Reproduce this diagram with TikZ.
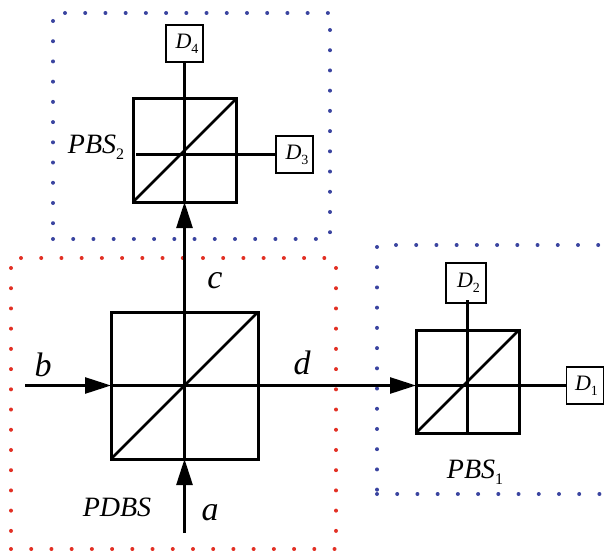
\documentclass[tikz,border=0pt]{standalone}
\usepackage{fontspec}
\usepackage{tikz}
\usetikzlibrary{arrows.meta}
\setmainfont{Liberation Serif}
\newcommand{\lowidx}[2][14]{\raisebox{-0.5ex}{\fontsize{#1}{#1}\selectfont\upshape #2}}
\newcommand{\detname}[2][5pt]{\hspace*{#1}\raisebox{-2pt}{D\lowidx{#2}}}

\begin{document}
\begin{tikzpicture}[
    x=1pt, y=-1pt,
    cube/.style={draw, rectangle, minimum size=#1, inner sep=0pt, outer sep=0pt, line width=3pt},
    detector/.style={draw, rectangle, minimum size=37pt, inner sep=0pt, outer sep=0pt, line width=1.4pt,
      font=\fontsize{22}{22}\selectfont\itshape},
    tag/.style={inner sep=0pt, font=\fontsize{28}{28}\selectfont\itshape},
    port/.style={inner sep=0pt, font=\fontsize{34}{34}\selectfont\itshape},
    beam/.style={line width=2.6pt},
    beamin/.style={beam, -{Triangle[length=26pt, width=16pt]}},
    bluedots/.style={draw={rgb,255:red,58;green,68;blue,160}, line width=4pt, line cap=round, dash pattern=on 0pt off 20.22pt},
    reddots/.style={draw={rgb,255:red,226;green,48;blue,36}, line width=4pt, line cap=round, dash pattern=on 0pt off 20.22pt}
  ]
    \useasboundingbox (0,0) rectangle (611,551);

    % dotted frames
    \draw[bluedots] (65,13) -- (329,13);
    \draw[bluedots] (53,21) -- (53,225);
    \draw[bluedots] (53,239) -- (318,239);
    \draw[bluedots] (330,30) -- (330,234);
    \draw[reddots] (21,258) -- (325,258);
    \draw[reddots] (11,268) -- (11,532);
    \draw[reddots] (11,549) -- (337,549);
    \draw[reddots] (336,268) -- (336,532);
    \draw[bluedots] (396,245) -- (599,245);
    \draw[bluedots] (377,247) -- (377,490);
    \draw[bluedots] (377,494) -- (601,494);

    % cubes
    \node[cube=147pt] (PDBS) at (184.5,385.5) {};
    \node[cube=103pt] (PBS2) at (184.5,150.5) {};
    \node[cube=103pt] (PBS1) at (467.5,381.5) {};

    % detectors
    \node[detector] (D4) at (184.5,43.5) {\detname{4}};
    \node[detector] (D3) at (294.5,154.5) {\detname{3}};
    \node[detector, minimum height=40pt, minimum width=40pt] (D2) at (466,283) {\detname{2}};
    \node[detector] (D1) at (585,385.5) {\detname[3pt]{1}};

    % free ends
    \coordinate (a) at (184.5,533);
    \coordinate (b) at (25,385.5);
    \coordinate (h2) at (136,154.5);
    \coordinate (v1top) at (467.5,300);
    \coordinate (v1bot) at (467.5,433);
    \coordinate (w1) at (416,385.5);

    % diagonals
    \draw[beam] (PDBS.south west) -- (PDBS.north east);
    \draw[beam] (PBS2.south west) -- (PBS2.north east);
    \draw[beam] (PBS1.south west) -- (PBS1.north east);

    % beams
    \draw[beamin] (a) -- (PDBS.south);
    \draw[beamin] (b) -- (PDBS.west);
    \draw[beam] (PDBS.south) -- (PDBS.north);
    \draw[beamin] (PDBS.north) -- (PBS2.south);
    \draw[beamin] (PDBS.west) -- (w1);
    \draw[beam] (PBS2.south) -- (D4.south);
    \draw[beam] (h2) -- (D3.west);
    \draw[beam] (w1) -- (D1.west);
    \draw[beam] (v1top) -- (v1bot);

    % labels
    \node[tag] (pdbs) at (117,507) {PDBS};
    \node[tag] (pbs2) at (96,147) {PBS\lowidx[16]{2}};
    \node[tag] (pbs1) at (475,472) {PBS\lowidx[16]{1}};
    \node[port] (la) at (210,513) {a};
    \node[port] (lb) at (43,365) {b};
    \node[port] (lc) at (215,281) {c};
    \node[port] (ld) at (302,363) {d};
  \end{tikzpicture}
\end{document}
